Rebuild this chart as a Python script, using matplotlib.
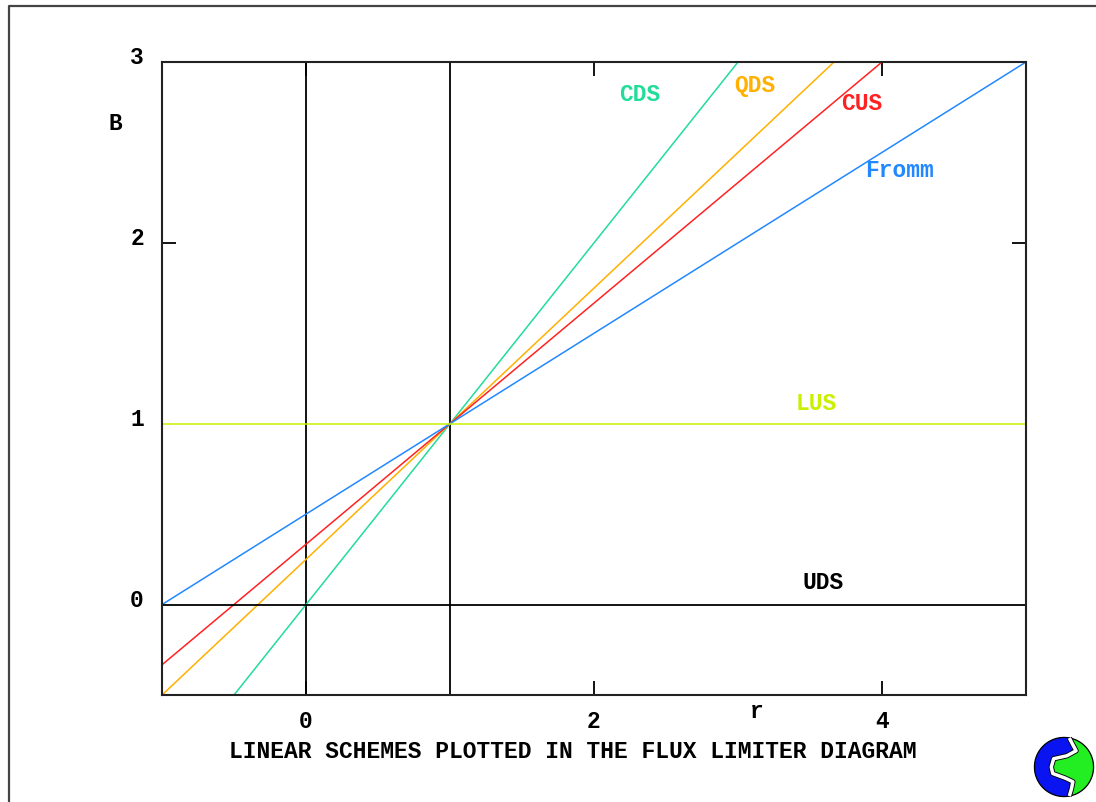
import numpy as np
import matplotlib
matplotlib.use("Agg")
import matplotlib.pyplot as plt
from matplotlib.patches import Polygon
import matplotlib.patheffects as pe
import matplotlib.transforms as mtransforms

plt.rcParams['font.family'] = ['Liberation Mono', 'DejaVu Sans Mono']
plt.rcParams['font.weight'] = 'bold'

# Linear schemes: end points (r, B) of each straight line in the diagram
cds_r, cds_B = [-0.5, 3.0], [-0.5, 3.0]
qds_r, qds_B = [-1.0, 3.667], [-0.5, 3.0]
cus_r, cus_B = [-1.0, 4.0], [-0.333, 3.0]
fromm_r, fromm_B = [-1.0, 5.0], [0.0, 3.0]
lus_r, lus_B = [-1.0, 5.0], [1.0, 1.0]
uds_r, uds_B = [-1.0, 5.0], [0.0, 0.0]

# Reference grid lines through r = 0 and r = 1
ref_r = [0.0, 1.0]

scheme_names = ["CDS", "QDS", "CUS", "Fromm", "LUS", "UDS"]
label_r = [2.32, 3.12, 3.86, 4.12, 3.54, 3.59]
label_B = [2.82, 2.87, 2.77, 2.40, 1.11, 0.12]
colors = ["#22DD99", "#FFB000", "#FF2222", "#2288FF", "#C8F000", "#000000"]

x_ticks = [0, 2, 4]
y_ticks = [0, 1, 2, 3]
y_marked = [2]

W, H = 1096, 802
fig = plt.figure(figsize=(W / 100, H / 100), dpi=100)

# outer frame (only its left and top edges fall inside the canvas)
frame = fig.add_axes([0, 0, 1, 1])
frame.set_xlim(0, W)
frame.set_ylim(H, 0)
frame.axis('off')
frame.plot([8.5, 8.5, W + 5], [H + 5, 5.5, 5.5], color="#444444", lw=1.6)

ax = fig.add_axes([162 / W, 1 - 695 / H, (1026 - 162) / W, (695 - 62) / H])
ax.set_xlim(-1, 5)
ax.set_ylim(-0.5, 3)

for rv in ref_r:
    ax.plot([rv, rv], [-0.5, 3], color="black", lw=1.3)

series = [(cds_r, cds_B), (qds_r, qds_B), (cus_r, cus_B),
          (fromm_r, fromm_B), (lus_r, lus_B), (uds_r, uds_B)]
for (rr, bb), c in zip(series, colors):
    ax.plot(rr, bb, color=c, lw=1.3 if c == "#000000" else 1.1)

for name, lr, lb, c in zip(scheme_names, label_r, label_B, colors):
    ax.text(lr, lb, name, color=c, fontsize=16.5, fontweight='bold',
            ha='center', va='center')

ax.set_xticks(x_ticks)
ax.set_yticks(y_ticks)
ax.set_xticklabels([str(v) for v in x_ticks], fontsize=16.5, fontweight='bold')
ax.set_yticklabels([str(v) for v in y_ticks], fontsize=16.5, fontweight='bold')
ax.tick_params(axis='both', direction='in', length=10, width=1.3,
               top=True, right=True, colors='black')
ax.tick_params(axis='x', pad=11)
ax.tick_params(axis='y', pad=13)
for val, tk in zip(y_ticks, ax.yaxis.get_major_ticks()):
    if val not in y_marked:
        tk.tick1line.set_visible(False)
        tk.tick2line.set_visible(False)
lift = mtransforms.ScaledTranslation(0, 4 / 100, fig.dpi_scale_trans)
for lab in ax.get_yticklabels():
    lab.set_verticalalignment('center')
    lab.set_transform(lab.get_transform() + lift)
for s in ax.spines.values():
    s.set_linewidth(1.5)
    s.set_color('#222222')

fig.text(115 / W, 1 - 123 / H, "B", fontsize=16.5, fontweight='bold',
         ha='center', va='center')
fig.text(757 / W, 1 - 712 / H, "r", fontsize=16.5, fontweight='bold',
         ha='center', va='center')
fig.text(573 / W, 1 - 752 / H, "LINEAR SCHEMES PLOTTED IN THE FLUX LIMITER DIAGRAM",
         fontsize=16.6, fontweight='bold', ha='center', va='center')

# logo: blue and green halves split by an S-shaped white gap
lg = fig.add_axes([(1064 - 34) / W, 1 - (767 + 34) / H, 68 / W, 68 / H])
lg.set_xlim(-1.15, 1.15)
lg.set_ylim(-1.15, 1.15)
lg.set_aspect('equal')
lg.axis('off')
gap = np.array([[0.18, 0.98], [0.30, 0.75], [0.41, 0.55], [0.10, 0.38],
                [-0.35, 0.28], [-0.43, 0.0], [-0.38, -0.22], [0.05, -0.38],
                [0.30, -0.50], [0.25, -0.75], [0.18, -0.98]])
t_top = np.arctan2(0.98, 0.18)
t_bot = np.arctan2(-0.98, 0.18) + 2 * np.pi
ang_left = np.linspace(t_top, t_bot, 60)
left_arc = np.c_[np.cos(ang_left), np.sin(ang_left)]
blue_poly = np.vstack([left_arc, gap[::-1]])
ang_right = np.linspace(np.arctan2(-0.98, 0.18), np.arctan2(0.98, 0.18), 60)
right_arc = np.c_[np.cos(ang_right), np.sin(ang_right)]
green_poly = np.vstack([right_arc, gap])
lg.add_patch(Polygon(blue_poly, closed=True, fc="#0A14F0", ec="black", lw=0.9))
lg.add_patch(Polygon(green_poly, closed=True, fc="#22EE22", ec="black", lw=0.9))
lg.plot(gap[:, 0], gap[:, 1], color="white", lw=2.5, solid_capstyle='butt',
        path_effects=[pe.Stroke(linewidth=3.8, foreground="black"), pe.Normal()])

fig.savefig("out.png", dpi=100)
